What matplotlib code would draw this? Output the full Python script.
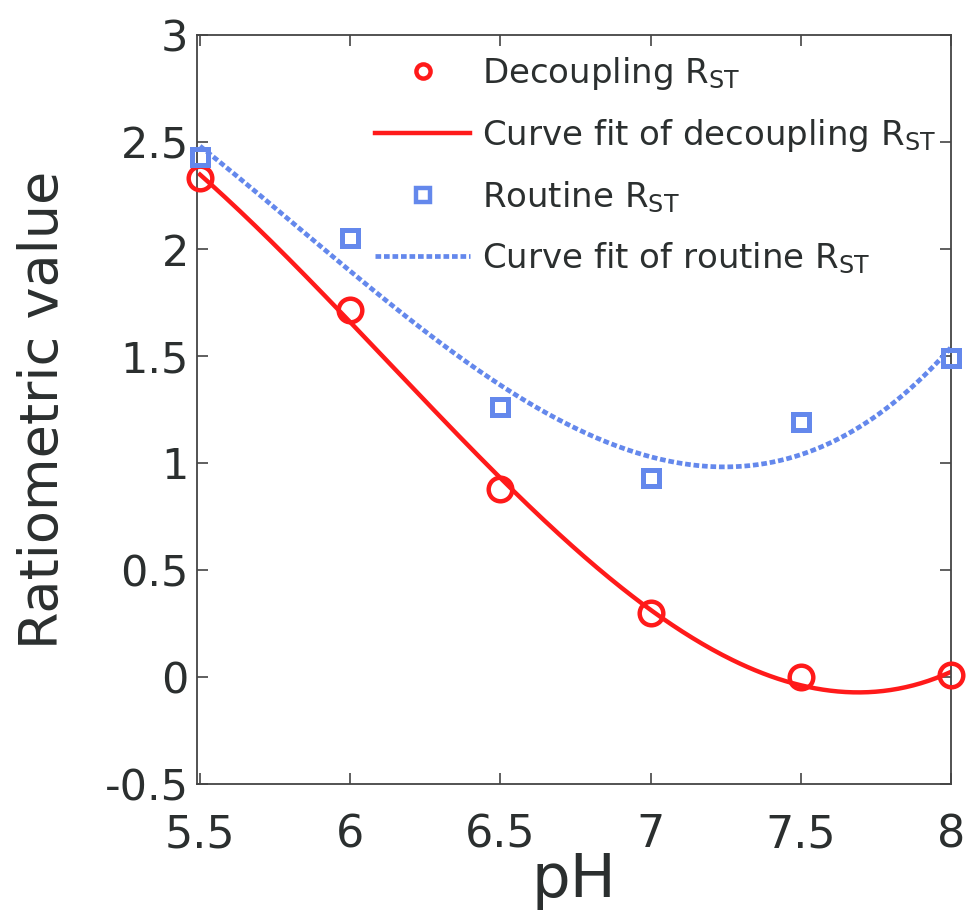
import numpy as np
import matplotlib.pyplot as plt

ph = [5.5, 6.0, 6.5, 7.0, 7.5, 8.0]
decoupling = [2.33, 1.715, 0.88, 0.30, 0.00, 0.01]
routine = [2.43, 2.05, 1.26, 0.93, 1.19, 1.49]
xtick_labels = ['5.5', '6', '6.5', '7', '7.5', '8']
yticks = [-0.5, 0, 0.5, 1, 1.5, 2, 2.5, 3]
ytick_labels = ['-0.5', '0', '0.5', '1', '1.5', '2', '2.5', '3']

red = '#ff1a1a'
blue = '#6488ec'
text_col = '#2b2f2f'

# polynomial curve fits of the data
xfit = np.linspace(5.5, 8.0, 300)
fit_dec = np.polyval(np.polyfit(ph, decoupling, 3), xfit)
fit_rou = np.polyval(np.polyfit(ph, routine, 3), xfit)

fig = plt.figure(figsize=(9.68, 9.19), dpi=100)
ax = fig.add_axes([197 / 968, 1 - 784 / 919, 754 / 968, 749 / 919])

ax.plot(ph, decoupling, 'o', ms=17, mfc='none', mec=red, mew=3.2,
        label='Decoupling R$_{\\mathregular{ST}}$', clip_on=False, zorder=4)
ax.plot(xfit, fit_dec, '-', color=red, lw=3.2,
        label='Curve fit of decoupling R$_{\\mathregular{ST}}$')
ax.plot(ph, routine, 's', ms=12, mfc='none', mec=blue, mew=3.6,
        label='Routine R$_{\\mathregular{ST}}$', clip_on=False, zorder=4)
ax.plot(xfit, fit_rou, linestyle=(0, (1.2, 0.6)), color=blue, lw=3.4,
        label='Curve fit of routine R$_{\\mathregular{ST}}$')

ax.set_xlim(5.49, 8.0)
ax.set_ylim(-0.5, 3.0)
ax.set_xticks(ph)
ax.set_xticklabels(xtick_labels, fontsize=32)
ax.set_yticks(yticks)
ax.set_yticklabels(ytick_labels, fontsize=31)

ax.tick_params(direction='in', length=8, width=1.2, top=True, right=True,
               colors='#444444', labelcolor=text_col)
ax.tick_params(axis='x', pad=21)
ax.tick_params(axis='y', pad=6)
for s in ax.spines.values():
    s.set_color('#444444')
    s.set_linewidth(1.3)

ax.set_xlabel('pH', fontsize=44, color=text_col, labelpad=-4)
ax.set_ylabel('Ratiometric value', fontsize=39, color=text_col, labelpad=26)

leg = ax.legend(loc='upper left', frameon=False, fontsize=24.5,
                handlelength=2.8, markerscale=0.6, labelspacing=0.74,
                handletextpad=0.35, borderpad=0, borderaxespad=0,
                bbox_to_anchor=(375 / 968, 1 - 55 / 919),
                bbox_transform=fig.transFigure)
for t in leg.get_texts():
    t.set_color(text_col)
leg.legend_handles[2].set_markersize(9.5)
leg.legend_handles[2].set_markeredgewidth(3.2)

fig.savefig('out.png', dpi=100)
